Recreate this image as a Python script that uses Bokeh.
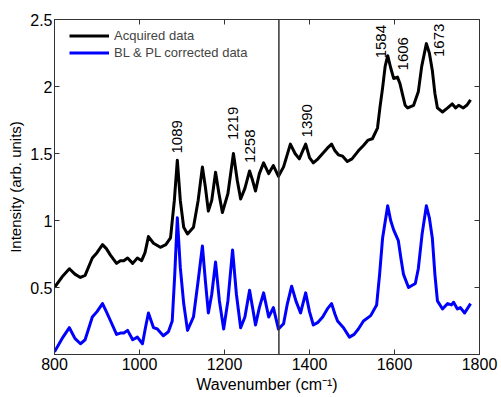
from bokeh.plotting import figure
from bokeh.models import (LinearAxis, FixedTicker, Span, Legend, LegendItem,
                          ColumnDataSource, Range1d)
from bokeh.core.properties import value
from bokeh.embed import file_html
from bokeh.resources import INLINE
import math

# ---------------- data ----------------
acq_x = [800, 818, 835, 848, 861, 872, 889, 900, 913, 922, 932, 946, 955, 963, 972, 984, 995,
         1005, 1013, 1021, 1033, 1049, 1062, 1073, 1082, 1089, 1096, 1104, 1113, 1127, 1138,
         1148, 1155, 1162, 1170, 1179, 1187, 1195, 1208, 1221, 1230, 1238, 1248, 1259, 1266,
         1273, 1282, 1292, 1304, 1315, 1327, 1339, 1355, 1366, 1376, 1384, 1391, 1400, 1409,
         1420, 1431, 1442, 1452, 1460, 1468, 1478, 1489, 1500, 1515, 1527, 1538, 1548, 1560,
         1566, 1572, 1578, 1584, 1591, 1598, 1607, 1613, 1619, 1625, 1631, 1645, 1656, 1664,
         1675, 1682, 1689, 1695, 1701, 1713, 1725, 1736, 1744, 1751, 1762, 1770, 1779]
acq_y = [0.50, 0.58, 0.64, 0.60, 0.575, 0.59, 0.72, 0.76, 0.82, 0.79, 0.74, 0.68, 0.70, 0.70,
         0.72, 0.68, 0.72, 0.70, 0.76, 0.88, 0.83, 0.80, 0.82, 0.87, 1.15, 1.45, 1.15, 0.95,
         0.90, 0.95, 1.15, 1.40, 1.25, 1.07, 1.15, 1.36, 1.20, 1.06, 1.20, 1.50, 1.30, 1.16,
         1.24, 1.37, 1.30, 1.22, 1.35, 1.43, 1.35, 1.41, 1.33, 1.40, 1.57, 1.50, 1.46, 1.52,
         1.57, 1.47, 1.43, 1.46, 1.50, 1.54, 1.57, 1.52, 1.49, 1.48, 1.44, 1.46, 1.52, 1.56,
         1.60, 1.61, 1.69, 1.85, 1.99, 2.15, 2.23, 2.14, 2.06, 2.07, 2.02, 1.94, 1.86, 1.84,
         1.86, 1.96, 2.15, 2.32, 2.25, 2.12, 1.95, 1.84, 1.81, 1.84, 1.87, 1.84, 1.86, 1.84,
         1.86, 1.90]

cor_x = [800, 818, 835, 848, 861, 872, 889, 900, 913, 922, 932, 946, 955, 963, 972, 984, 995,
         1007, 1014, 1021, 1033, 1042, 1056, 1068, 1077, 1083, 1089, 1096, 1104, 1113, 1127,
         1138, 1148, 1155, 1162, 1170, 1179, 1188, 1198, 1208, 1219, 1228, 1238, 1248, 1259,
         1266, 1273, 1282, 1292, 1304, 1315, 1327, 1339, 1348, 1358, 1368, 1379, 1391, 1400,
         1409, 1420, 1431, 1442, 1452, 1460, 1466, 1480, 1494, 1505, 1515, 1527, 1544, 1558,
         1565, 1572, 1584, 1591, 1598, 1609, 1615, 1621, 1633, 1649, 1656, 1665, 1675, 1682,
         1689, 1695, 1701, 1713, 1725, 1734, 1739, 1748, 1755, 1765, 1779]
cor_y = [0.02, 0.12, 0.20, 0.12, 0.08, 0.11, 0.28, 0.32, 0.38, 0.32, 0.25, 0.15, 0.16, 0.16,
         0.18, 0.11, 0.13, 0.08, 0.20, 0.31, 0.20, 0.19, 0.14, 0.17, 0.25, 0.60, 1.02, 0.65,
         0.38, 0.18, 0.28, 0.55, 0.81, 0.55, 0.31, 0.45, 0.69, 0.40, 0.19, 0.40, 0.78, 0.45,
         0.20, 0.28, 0.48, 0.35, 0.22, 0.35, 0.46, 0.28, 0.35, 0.19, 0.23, 0.38, 0.51, 0.40,
         0.31, 0.46, 0.32, 0.22, 0.24, 0.28, 0.34, 0.38, 0.30, 0.25, 0.20, 0.13, 0.15, 0.19,
         0.25, 0.29, 0.37, 0.60, 0.87, 1.11, 1.00, 0.93, 0.85, 0.72, 0.60, 0.50, 0.53, 0.64,
         0.90, 1.11, 1.02, 0.87, 0.60, 0.40, 0.34, 0.38, 0.37, 0.39, 0.34, 0.35, 0.31, 0.38]

peak_labels = ["1089", "1219", "1258", "1390", "1584", "1606", "1673"]
peak_label_x = [1089, 1221, 1259, 1395, 1569, 1621, 1704]
peak_label_y = [1.50, 1.60, 1.43, 1.62, 2.21, 2.12, 2.22]

x_ticks = [800, 1000, 1200, 1400, 1600, 1800]
y_ticks = [0.5, 1, 1.5, 2, 2.5]
marker_line_x = 1328

series_names = ["Acquired data", "BL & PL corrected data"]

# ---------------- figure ----------------
FONT = "Liberation Sans"
AX = "#333333"

p = figure(width=501, height=397, output_backend="svg", toolbar_location=None,
           x_range=Range1d(800, 1800), y_range=Range1d(0, 2.5),
           min_border_left=54, min_border_right=22, min_border_top=19, min_border_bottom=43,
           background_fill_color="white", border_fill_color="white")
p.grid.visible = False
p.outline_line_color = AX
p.outline_line_width = 1

# main axes
xa = p.xaxis[0]
ya = p.yaxis[0]
xa.ticker = FixedTicker(ticks=x_ticks)
ya.ticker = FixedTicker(ticks=y_ticks)
for ax in (xa, ya):
    ax.major_tick_in = 5
    ax.major_tick_out = 0
    ax.minor_tick_line_color = None
    ax.axis_line_color = AX
    ax.major_tick_line_color = AX
    ax.major_label_text_font = FONT
    ax.major_label_text_font_size = "16px"
    ax.major_label_text_color = "black"
    ax.axis_label_text_font = FONT
    ax.axis_label_text_font_style = "normal"
    ax.axis_label_text_color = "black"
xa.major_label_standoff = 3
ya.major_label_standoff = 2
xa.axis_label = "Wavenumber (cm\u207b\u00b9)"
xa.axis_label_text_font_size = "16px"
xa.axis_label_standoff = 3
ya.axis_label = "Intensity (arb. units)"
ya.axis_label_text_font_size = "15px"
ya.axis_label_standoff = 3

# box axes (top/right) with inner ticks and no labels
top = LinearAxis(ticker=FixedTicker(ticks=x_ticks))
right = LinearAxis(ticker=FixedTicker(ticks=y_ticks))
for ax in (top, right):
    ax.major_tick_in = 5
    ax.major_tick_out = 0
    ax.minor_tick_line_color = None
    ax.axis_line_color = AX
    ax.major_tick_line_color = AX
    ax.major_label_text_color = None
    ax.major_label_text_font_size = "1px"
    ax.major_label_standoff = 0
p.add_layout(top, "above")
p.add_layout(right, "right")

# vertical marker line
p.add_layout(Span(location=marker_line_x, dimension="height",
                  line_color="#333333", line_width=1.5))

# spectra
r1 = p.line(acq_x, acq_y, line_color="black", line_width=3, line_join="round")
r2 = p.line(cor_x, cor_y, line_color="#0000ff", line_width=3, line_join="round")

# peak labels
src = ColumnDataSource(dict(x=peak_label_x, y=peak_label_y, t=peak_labels))
p.text(x="x", y="y", text="t", source=src, angle=math.pi / 2,
       text_align="left", text_baseline="middle",
       text_font=value(FONT), text_font_size="15px", text_color="black")

# legend
legend = Legend(items=[LegendItem(label=series_names[0], renderers=[r1]),
                       LegendItem(label=series_names[1], renderers=[r2])],
                location=(10, 288), glyph_width=40, glyph_height=17, label_height=17,
                spacing=0, padding=5, margin=0, label_standoff=5,
                label_text_font=FONT, label_text_font_size="13px",
                border_line_alpha=0, background_fill_alpha=0)
p.add_layout(legend)

open("out.html", "w").write(file_html(p, INLINE))
